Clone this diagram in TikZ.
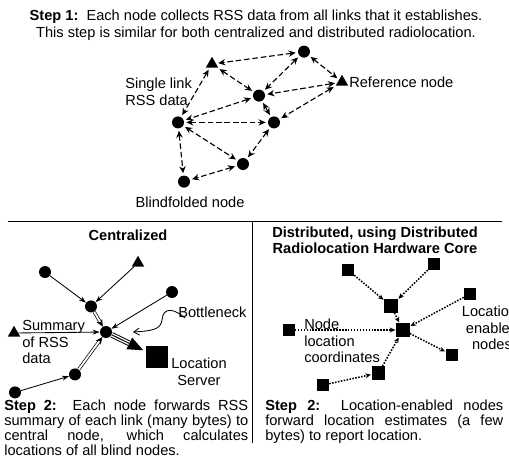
\documentclass[tikz,border=0pt]{standalone}
\usepackage{fontspec}
\setmainfont{Liberation Sans}
\usetikzlibrary{positioning, shapes.geometric, arrows.meta}

\tikzset{
  blind/.style={circle, fill=black, inner sep=0pt, minimum size=0.3cm},
  refnode/.style={regular polygon, regular polygon sides=3, fill=black, inner sep=0pt, minimum size=0.36cm},
  locnode/.style={rectangle, fill=black, inner sep=0pt, minimum size=0.3cm},
  server/.style={rectangle, fill=black, inner sep=0pt, minimum size=0.55cm},
  lbl/.style={inner sep=0pt, align=left, font=\fontsize{10.4}{11.8}\selectfont},
  steptext/.style={inner sep=0pt, align=justify, anchor=north west, font=\fontsize{10.4}{10.5}\selectfont},
  rss/.style={{Stealth[length=5pt,width=4.5pt]}-{Stealth[length=5pt,width=4.5pt]}, dash pattern=on 4pt off 2pt, thick, shorten <=1.5pt, shorten >=1.5pt},
  fwd/.style={-{Stealth[length=5pt,width=3.5pt]}, line width=0.6pt},
  summ/.style={-{Stealth[length=5pt,width=4.5pt]}, double, double distance=1.3pt, line width=0.5pt},
  coords/.style={-{Stealth[length=4pt,width=3.5pt]}, densely dotted, line width=1.1pt, shorten >=0.5pt}
}

\begin{document}
\begin{tikzpicture}[>=Stealth, font=\fontsize{10.4}{12}\selectfont]
  \useasboundingbox (0,0) rectangle (12.725,-11.65);

  % Step 1
  \node [align=center] (cap1) at (6.4,-0.64) {\textbf{Step 1:}\ \ Each node collects RSS data from all links that it establishes.\\This step is similar for both centralized and distributed radiolocation.};

  \node [refnode] (T1) at (5.3,-1.6)    {};
  \node [blind]   (C1) at (7.6,-1.29)   {};
  \node [refnode] (T2) at (8.55,-2.05)  {};
  \node [blind]   (C2) at (6.475,-2.39) {};
  \node [blind]   (C3) at (4.45,-3.06)  {};
  \node [blind]   (C4) at (6.85,-3.06)  {};
  \node [blind]   (C5) at (6.075,-4.1)  {};
  \node [blind]   (C6) at (4.6,-4.54)   {};

  \node [lbl, anchor=west] (single) at (3.125,-2.3)  {Single link\\RSS data};
  \node [lbl, anchor=west] (refname) at (8.725,-2.05) {Reference node};
  \node [lbl] (blindname) at (4.75,-5.05) {Blindfolded node};

  \draw[rss] (C1) -- (T1);
  \draw[rss] (C1) -- (C2);
  \draw[rss] (C1) -- (T2);
  \draw[rss] (T1) -- (C3);
  \draw[rss] (T1) -- (C2);
  \draw[rss] (T2) -- (C2);
  \draw[rss] (T2) -- (C4);
  \draw[rss] (C2) -- (C3);
  \draw[rss] (C2) -- (C4);
  \draw[rss] (C3) -- (C4);
  \draw[rss] (C3) -- (C5);
  \draw[rss] (C3) -- (C6);
  \draw[rss] (C4) -- (C5);
  \draw[rss] (C5) -- (C6);

  % rules between the panels
  \draw[line width=0.7pt] (0.2,-5.525) -- (12.55,-5.525);
  \draw[line width=0.7pt] (6.3,-5.525) -- (6.3,-11.075);

  % Centralized
  \node (centr) at (3.2,-5.875) {\textbf{Centralized}};

  \node [blind]   (A) at (1.125,-6.8)   {};
  \node [refnode] (B) at (3.45,-6.575)  {};
  \node [blind]   (D) at (4.3,-7.3)     {};
  \node [blind]   (E) at (2.275,-7.66)  {};
  \node [blind]   (F) at (2.65,-8.3)    {};
  \node [refnode] (G) at (0.35,-8.325)  {};
  \node [blind]   (H) at (1.875,-9.36)  {};
  \node [blind]   (I) at (0.375,-9.81)  {};
  \node [server]  (srv) at (3.925,-8.925) {};

  \node [lbl, anchor=west] (summary) at (0.55,-8.55) {Summary\\of RSS\\data};
  \node [lbl, anchor=west] (bneck) at (4.45,-7.8) {Bottleneck};
  \node [lbl, align=center] (srvname) at (4.975,-9.3) {Location\\Server};

  \draw[fwd] (A) -- (E);
  \draw[fwd] (B) -- (E);
  \draw[fwd] (D) -- (F);
  \draw[fwd] (G) -- (F);
  \draw[fwd] (I) -- (H);
  \draw[summ] (E) -- (F);
  \draw[summ] (H) -- (F);
  \draw[double, line width=0.7pt, double distance=2.6pt, shorten >=12pt] (F) -- (srv);
  \draw[line width=0.7pt, -{Triangle[length=11pt,width=9pt]}, shorten >=2pt] (F) -- (srv);

  \coordinate (bnA) at (4.625,-7.95);
  \coordinate (bnB) at (3.325,-8.3);
  \draw[-{Straight Barb[length=4pt,width=5pt]}, line width=0.6pt] (bnA) .. controls (4.375,-7.725) and (4.075,-7.65) .. (4.05,-8.0) .. controls (4.025,-8.25) and (3.75,-8.275) .. (bnB);

  \node [steptext, text width=6.1cm] (cap2) at (0.1,-10.0) {\textbf{Step 2:}\ \ Each node forwards RSS\linebreak summary of each link (many bytes) to\linebreak central node, which calculates\linebreak locations of all blind nodes.};

  % Distributed
  \node [align=center, font=\fontsize{10.4}{11.6}\selectfont] (dist) at (9.375,-6.0) {\textbf{Distributed, using Distributed}\\\textbf{Radiolocation Hardware Core}};

  \node [locnode] (S1) at (8.7,-6.75)     {};
  \node [locnode] (S2) at (10.85,-6.6)    {};
  \node [locnode, minimum size=0.33cm] (S3) at (9.775,-7.65) {};
  \node [locnode] (S4) at (11.75,-7.35)   {};
  \node [locnode, minimum size=0.33cm] (S5) at (10.075,-8.25) {};
  \node [locnode] (S6) at (7.2125,-8.25)  {};
  \node [locnode] (S7) at (11.3,-8.875)   {};
  \node [locnode, minimum size=0.33cm] (S8) at (9.4625,-9.325) {};
  \node [locnode] (S9) at (8.075,-9.625)  {};

  \node [lbl, anchor=west] (nodecoord) at (7.6,-8.525) {Node\\location\\coordinates};
  \node [lbl, align=center] (enabled) at (12.3,-8.2) {Location-\\enabled\\nodes};

  \draw[coords] (S1) -- (S3);
  \draw[coords] (S2) -- (S3);
  \draw[coords] (S3) -- (S5);
  \draw[coords] (S4) -- (S5);
  \draw[coords] (S6) -- (S5);
  \draw[coords] (S8) -- (S5);
  \draw[coords] (S9) -- (S8);
  \draw[coords] (S5) -- (S7);

  \node [steptext, text width=5.95cm] (cap3) at (6.625,-10.0) {\textbf{Step 2:}\ \ Location-enabled nodes\linebreak forward location estimates (a few\linebreak bytes) to report location.};

\end{tikzpicture}
\end{document}
